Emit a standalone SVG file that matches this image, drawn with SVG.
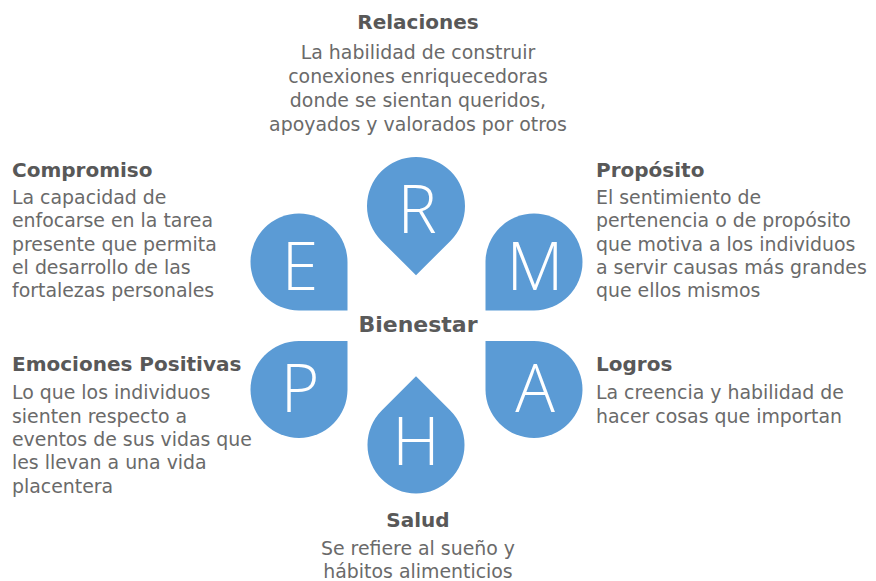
<svg xmlns="http://www.w3.org/2000/svg" width="876" height="581" viewBox="0 0 876 581">
<style>
.petal{fill:#5b9bd5}
.let{font-family:"Open Sans","DejaVu Sans",sans-serif;font-weight:300;font-size:66px;fill:#ffffff;text-anchor:middle}
.hd{font-family:"DejaVu Sans","Liberation Sans",sans-serif;font-weight:bold;font-size:20px;fill:#585858}
.bd{font-family:"DejaVu Sans","Liberation Sans",sans-serif;font-size:18.9px;fill:#6a6a6a}
.mid{text-anchor:middle}
.ctr{font-family:"DejaVu Sans","Liberation Sans",sans-serif;font-weight:bold;font-size:22px;fill:#5a5a5a;text-anchor:middle}
</style>
<rect width="876" height="581" fill="#ffffff"/>
<g id="center"><text class="ctr" x="418" y="332">Bienestar</text></g>
<g id="node-R">
<path class="petal" d="M416 275.3 L381.35 240.65 A49 49 0 1 1 450.65 240.65 Z"/>
<text class="let" x="417" y="233">R</text>
</g>
<g id="node-E">
<path class="petal" d="M347.5 262 L347.5 310.5 L299 310.5 A48.5 48.5 0 1 1 347.5 262 Z"/>
<text class="let" x="300" y="290">E</text>
</g>
<g id="node-M">
<path class="petal" d="M485.5 262 L485.5 310.5 L534 310.5 A48.5 48.5 0 1 0 485.5 262 Z"/>
<text class="let" x="535" y="290">M</text>
</g>
<g id="node-P">
<path class="petal" d="M299 341 L347.5 341 L347.5 389.5 A48.5 48.5 0 1 1 299 341 Z"/>
<text class="let" x="300" y="411.5">P</text>
</g>
<g id="node-A">
<path class="petal" d="M534 341 L485.5 341 L485.5 389.5 A48.5 48.5 0 1 0 534 341 Z"/>
<text class="let" x="535" y="411.5">A</text>
</g>
<g id="node-H">
<path class="petal" d="M416 376.3 L450 410.3 A48.5 48.5 0 1 1 382 410.3 Z"/>
<text class="let" x="416" y="465">H</text>
</g>
<g id="connectors"></g>
<g id="text-relaciones">
<text class="hd mid" x="418" y="29">Relaciones</text>
<text class="bd mid" x="418" y="59">La habilidad de construir</text>
<text class="bd mid" x="418" y="83">conexiones enriquecedoras</text>
<text class="bd mid" x="418" y="107">donde se sientan queridos,</text>
<text class="bd mid" x="418" y="131">apoyados y valorados por otros</text>
</g>
<g id="text-compromiso">
<text class="hd" x="12" y="177">Compromiso</text>
<text class="bd" x="12" y="204">La capacidad de</text>
<text class="bd" x="12" y="227">enfocarse en la tarea</text>
<text class="bd" x="12" y="250.5">presente que permita</text>
<text class="bd" x="12" y="274">el desarrollo de las</text>
<text class="bd" x="12" y="297">fortalezas personales</text>
</g>
<g id="text-proposito">
<text class="hd" x="596" y="177">Propósito</text>
<text class="bd" x="596" y="204">El sentimiento de</text>
<text class="bd" x="596" y="227">pertenencia o de propósito</text>
<text class="bd" x="596" y="250.5">que motiva a los individuos</text>
<text class="bd" x="596" y="274">a servir causas más grandes</text>
<text class="bd" x="596" y="297">que ellos mismos</text>
</g>
<g id="text-emociones">
<text class="hd" x="12" y="371">Emociones Positivas</text>
<text class="bd" x="12" y="399">Lo que los individuos</text>
<text class="bd" x="12" y="422.5">sienten respecto a</text>
<text class="bd" x="12" y="446">eventos de sus vidas que</text>
<text class="bd" x="12" y="469">les llevan a una vida</text>
<text class="bd" x="12" y="492.5">placentera</text>
</g>
<g id="text-logros">
<text class="hd" x="596" y="371">Logros</text>
<text class="bd" x="596" y="399">La creencia y habilidad de</text>
<text class="bd" x="596" y="422.5">hacer cosas que importan</text>
</g>
<g id="text-salud">
<text class="hd mid" x="418" y="527">Salud</text>
<text class="bd mid" x="418" y="555">Se refiere al sueño y</text>
<text class="bd mid" x="418" y="578">hábitos alimenticios</text>
</g>
</svg>
